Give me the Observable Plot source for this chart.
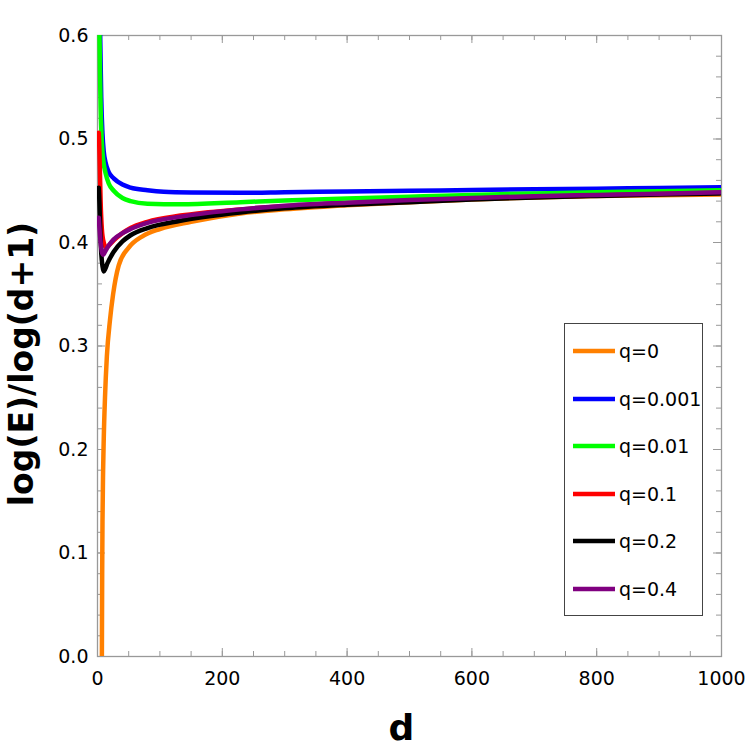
<!DOCTYPE html>
<html>
<head>
<meta charset="utf-8">
<script src="https://cdn.jsdelivr.net/npm/d3@7"></script>
<script src="https://cdn.jsdelivr.net/npm/@observablehq/plot@0.6"></script>
<style>
  html, body { margin: 0; padding: 0; background: #fff; }
  #wrap { position: relative; width: 753px; height: 753px; font-family: "DejaVu Sans", sans-serif; }
  #legend { position: absolute; left: 564px; top: 323px; width: 139px; height: 293px;
    border: 1px solid #444; background: #fff; box-sizing: border-box; }
  .row { position: absolute; left: 7px; height: 20px; display: flex; align-items: center; }
  .row span { font-size: 19px; margin-left: 3px; color: #000; white-space: nowrap; }
</style>
</head>
<body>
<div id="wrap"></div>
<script>
// ---- data ----
const labels = ["q=0", "q=0.001", "q=0.01", "q=0.1", "q=0.2", "q=0.4"];
const colors = ["#ff8000", "#0000ff", "#00ff00", "#ff0000", "#000000", "#800080"];

const dOrange = [7, 7.5, 8, 9, 10, 12, 15, 20, 25, 34, 50, 72, 100, 150, 229, 300, 400, 500, 600, 700, 800, 900, 1000];
const vOrange = [0, 0.08, 0.13, 0.18, 0.21, 0.25, 0.29, 0.325, 0.35, 0.378, 0.395, 0.406, 0.413, 0.42, 0.428, 0.432, 0.436, 0.439, 0.4415, 0.4435, 0.445, 0.4457, 0.4465];

const dBlue = [4, 5, 6, 8, 10, 13, 18, 26, 40, 53, 80, 106, 150, 229, 300, 400, 500, 600, 700, 800, 900, 1000];
const vBlue = [0.61, 0.575, 0.54, 0.505, 0.488, 0.477, 0.468, 0.462, 0.456, 0.453, 0.4505, 0.449, 0.4483, 0.448, 0.4485, 0.4493, 0.45, 0.4507, 0.4514, 0.452, 0.4527, 0.4533];

const dGreen = [3, 4, 5, 6, 8, 10, 13, 18, 26, 40, 53, 80, 133, 229, 300, 400, 500, 600, 700, 800, 900, 1000];
const vGreen = [0.61, 0.565, 0.53, 0.51, 0.487, 0.476, 0.467, 0.457, 0.45, 0.443, 0.44, 0.4375, 0.437, 0.439, 0.4405, 0.4425, 0.4443, 0.446, 0.4473, 0.4485, 0.4495, 0.4505];

const dRed = [2, 3, 4, 5, 7, 10, 14, 18, 26, 40, 53, 80, 133, 229, 300, 400, 500, 600, 700, 800, 900, 1000];
const vRed = [0.506, 0.49, 0.465, 0.44, 0.413, 0.4, 0.395, 0.397, 0.402, 0.409, 0.414, 0.42, 0.426, 0.432, 0.435, 0.438, 0.4403, 0.4425, 0.444, 0.4455, 0.4468, 0.448];

const dBlack = [2, 3, 4, 6, 8, 10, 12, 16, 26, 40, 53, 80, 133, 229, 300, 400, 500, 600, 700, 800, 900, 1000];
const vBlack = [0.453, 0.44, 0.42, 0.39, 0.377, 0.372, 0.374, 0.38, 0.391, 0.401, 0.407, 0.414, 0.421, 0.429, 0.433, 0.4365, 0.439, 0.4415, 0.4435, 0.445, 0.4463, 0.4475];

const dPurple = [2, 3, 5, 7, 9, 12, 18, 26, 40, 53, 80, 133, 229, 300, 400, 500, 600, 700, 800, 900, 1000];
const vPurple = [0.424, 0.415, 0.4, 0.391, 0.388, 0.391, 0.397, 0.403, 0.409, 0.413, 0.419, 0.425, 0.432, 0.4355, 0.4385, 0.441, 0.443, 0.4448, 0.446, 0.4472, 0.4485];

const xTickLabels = [0, 200, 400, 600, 800, 1000];
const xMinor = d3.range(0, 1001, 50);
const yTickLabels = [0, 0.1, 0.2, 0.3, 0.4, 0.5, 0.6];
const yMinor = d3.range(0, 0.601, 0.02);

// ---- build ----
const seriesD = [dOrange, dBlue, dGreen, dRed, dBlack, dPurple];
const seriesV = [vOrange, vBlue, vGreen, vRed, vBlack, vPurple];
const rows = seriesD.map((ds, i) => ds.map((d, j) => ({d, v: seriesV[i][j], q: labels[i]})));

const W = 753, H = 753, mL = 97, mR = 32, mT = 35, mB = 97;
const pw = W - mL - mR, ph = H - mT - mB;
const major = 8, minor = 5;
const tickColor = "#999";

const marks = [
  // minor ticks
  Plot.ruleX(xMinor, {stroke: tickColor, insetTop: ph - minor}),
  Plot.ruleX(xMinor, {stroke: tickColor, insetBottom: ph - minor}),
  Plot.ruleY(yMinor, {stroke: tickColor, insetRight: pw - minor}),
  Plot.ruleY(yMinor, {stroke: tickColor, insetLeft: pw - minor}),
  // major ticks
  Plot.ruleX(xTickLabels, {stroke: tickColor, insetTop: ph - major}),
  Plot.ruleX(xTickLabels, {stroke: tickColor, insetBottom: ph - major}),
  Plot.ruleY(yTickLabels, {stroke: tickColor, insetRight: pw - major}),
  Plot.ruleY(yTickLabels, {stroke: tickColor, insetLeft: pw - major}),
  Plot.frame({stroke: tickColor, strokeWidth: 1.3}),
  ...rows.map((r, i) => Plot.line(r, {x: "d", y: "v", stroke: colors[i], strokeWidth: 4.5, curve: "monotone-x", clip: true})),
  Plot.axisX(xTickLabels, {tickSize: 0, tickPadding: 15, fontSize: 19, tickFormat: d => String(d), fill: "#000", label: null}),
  Plot.axisY(yTickLabels, {tickSize: 0, tickPadding: 9, fontSize: 19, tickFormat: d3.format(".1f"), fill: "#000", label: null}),
  Plot.text(["log(E)/log(d+1)"], {frameAnchor: "left", textAnchor: "middle", lineAnchor: "middle", dx: -75, dy: 18, rotate: -90, fontSize: 33, fontWeight: "bold", fill: "#000"}),
  Plot.text(["d"], {frameAnchor: "bottom", textAnchor: "middle", lineAnchor: "middle", dx: -8, dy: 72, fontSize: 36, fontWeight: "bold", fill: "#000"})
];

const chart = Plot.plot({
  width: W, height: H,
  marginLeft: mL, marginRight: mR, marginTop: mT, marginBottom: mB,
  style: {fontFamily: "DejaVu Sans, sans-serif", background: "#fff", overflow: "visible"},
  x: {domain: [0, 1000], axis: null},
  y: {domain: [0, 0.6], axis: null},
  marks
});

const wrap = document.getElementById("wrap");
wrap.appendChild(chart);

// legend
const legend = document.createElement("div");
legend.id = "legend";
labels.forEach((lab, i) => {
  const row = document.createElement("div");
  row.className = "row";
  row.style.top = (17 + i * 47.6) + "px";
  row.innerHTML = `<svg width="44" height="8"><line x1="1" x2="43" y1="4" y2="4" stroke="${colors[i]}" stroke-width="4.5"/></svg><span>${lab}</span>`;
  legend.appendChild(row);
});
wrap.appendChild(legend);
</script>
</body>
</html>
